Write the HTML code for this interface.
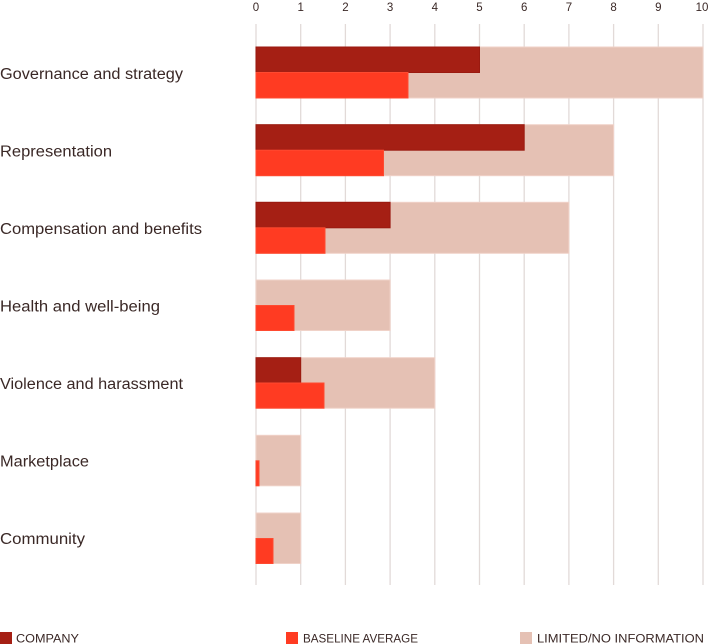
<!DOCTYPE html>
<html>
<head>
<meta charset="utf-8">
<style>
html,body{margin:0;padding:0;background:#fff;}
svg{display:block;}
text{font-family:"Liberation Sans",sans-serif;fill:#3a2826;}
</style>
</head>
<body>
<svg width="710" height="644" viewBox="0 0 710 644" xmlns="http://www.w3.org/2000/svg">
  <!-- gridlines -->
  <g stroke="#e2dad8" stroke-width="1.3">
    <line x1="256" y1="24" x2="256" y2="585"/>
    <line x1="300.7" y1="24" x2="300.7" y2="585"/>
    <line x1="345.4" y1="24" x2="345.4" y2="585"/>
    <line x1="390.1" y1="24" x2="390.1" y2="585"/>
    <line x1="434.8" y1="24" x2="434.8" y2="585"/>
    <line x1="479.5" y1="24" x2="479.5" y2="585"/>
    <line x1="524.2" y1="24" x2="524.2" y2="585"/>
    <line x1="568.9" y1="24" x2="568.9" y2="585"/>
    <line x1="613.6" y1="24" x2="613.6" y2="585"/>
    <line x1="658.3" y1="24" x2="658.3" y2="585"/>
    <line x1="703" y1="24" x2="703" y2="585"/>
  </g>
  <!-- tick labels -->
  <g font-size="11.5" text-anchor="middle">
    <text x="256" y="11">0</text>
    <text x="300.7" y="11">1</text>
    <text x="345.4" y="11">2</text>
    <text x="390.1" y="11">3</text>
    <text x="434.8" y="11">4</text>
    <text x="479.5" y="11">5</text>
    <text x="524.2" y="11">6</text>
    <text x="568.9" y="11">7</text>
    <text x="613.6" y="11">8</text>
    <text x="658.3" y="11">9</text>
    <text x="702" y="11">10</text>
  </g>

  <!-- bars: scale 44.7 px/unit, origin 256 -->
  <g stroke-width="1">
    <rect x="256" y="47" width="447" height="51" fill="#e5c1b4" stroke="#f0d2c8"/>
    <rect x="256" y="47" width="223.5" height="25.5" fill="#a51f14" stroke="#9a1a10"/>
    <rect x="256" y="72.5" width="152" height="25.5" fill="#ff3b22" stroke="#ff4a30"/>

    <rect x="256" y="124.7" width="357.6" height="51" fill="#e5c1b4" stroke="#f0d2c8"/>
    <rect x="256" y="124.7" width="268.2" height="25.5" fill="#a51f14" stroke="#9a1a10"/>
    <rect x="256" y="150.2" width="127.5" height="25.5" fill="#ff3b22" stroke="#ff4a30"/>

    <rect x="256" y="202.3" width="312.9" height="51" fill="#e5c1b4" stroke="#f0d2c8"/>
    <rect x="256" y="202.3" width="134.1" height="25.5" fill="#a51f14" stroke="#9a1a10"/>
    <rect x="256" y="227.8" width="69" height="25.5" fill="#ff3b22" stroke="#ff4a30"/>

    <rect x="256" y="280" width="134.1" height="50.5" fill="#e5c1b4" stroke="#f0d2c8"/>
    <rect x="256" y="305.5" width="38" height="25" fill="#ff3b22" stroke="#ff4a30"/>

    <rect x="256" y="357.7" width="178.8" height="50.5" fill="#e5c1b4" stroke="#f0d2c8"/>
    <rect x="256" y="357.7" width="44.7" height="25.3" fill="#a51f14" stroke="#9a1a10"/>
    <rect x="256" y="383" width="68" height="25.2" fill="#ff3b22" stroke="#ff4a30"/>

    <rect x="256" y="435.3" width="44.7" height="50.5" fill="#e5c1b4" stroke="#f0d2c8"/>
    <rect x="256" y="460.8" width="3" height="25" fill="#ff3b22" stroke="#ff4a30"/>

    <rect x="256" y="513" width="44.7" height="50.5" fill="#e5c1b4" stroke="#f0d2c8"/>
    <rect x="256" y="538.5" width="17" height="25" fill="#ff3b22" stroke="#ff4a30"/>
  </g>

  <!-- category labels -->
  <g font-size="15.5">
    <text x="0" y="79" textLength="183" lengthAdjust="spacingAndGlyphs">Governance and strategy</text>
    <text x="0" y="156.5" textLength="112" lengthAdjust="spacingAndGlyphs">Representation</text>
    <text x="0" y="234" textLength="202" lengthAdjust="spacingAndGlyphs">Compensation and benefits</text>
    <text x="0" y="311.5" textLength="160" lengthAdjust="spacingAndGlyphs">Health and well-being</text>
    <text x="0" y="389" textLength="183" lengthAdjust="spacingAndGlyphs">Violence and harassment</text>
    <text x="0" y="466.5" textLength="89" lengthAdjust="spacingAndGlyphs">Marketplace</text>
    <text x="0" y="544" textLength="85" lengthAdjust="spacingAndGlyphs">Community</text>
  </g>

  <!-- legend -->
  <rect x="0" y="632" width="12" height="12" fill="#a51f14"/>
  <text x="16" y="642.5" font-size="11.5" textLength="63" lengthAdjust="spacingAndGlyphs">COMPANY</text>
  <rect x="286" y="632" width="12" height="12" fill="#ff3b22"/>
  <text x="303" y="642.5" font-size="11.5" textLength="115" lengthAdjust="spacingAndGlyphs">BASELINE AVERAGE</text>
  <rect x="520" y="632" width="12" height="12" fill="#e5c1b4"/>
  <text x="537" y="642.5" font-size="11.5" textLength="167" lengthAdjust="spacingAndGlyphs">LIMITED/NO INFORMATION</text>
</svg>
</body>
</html>
